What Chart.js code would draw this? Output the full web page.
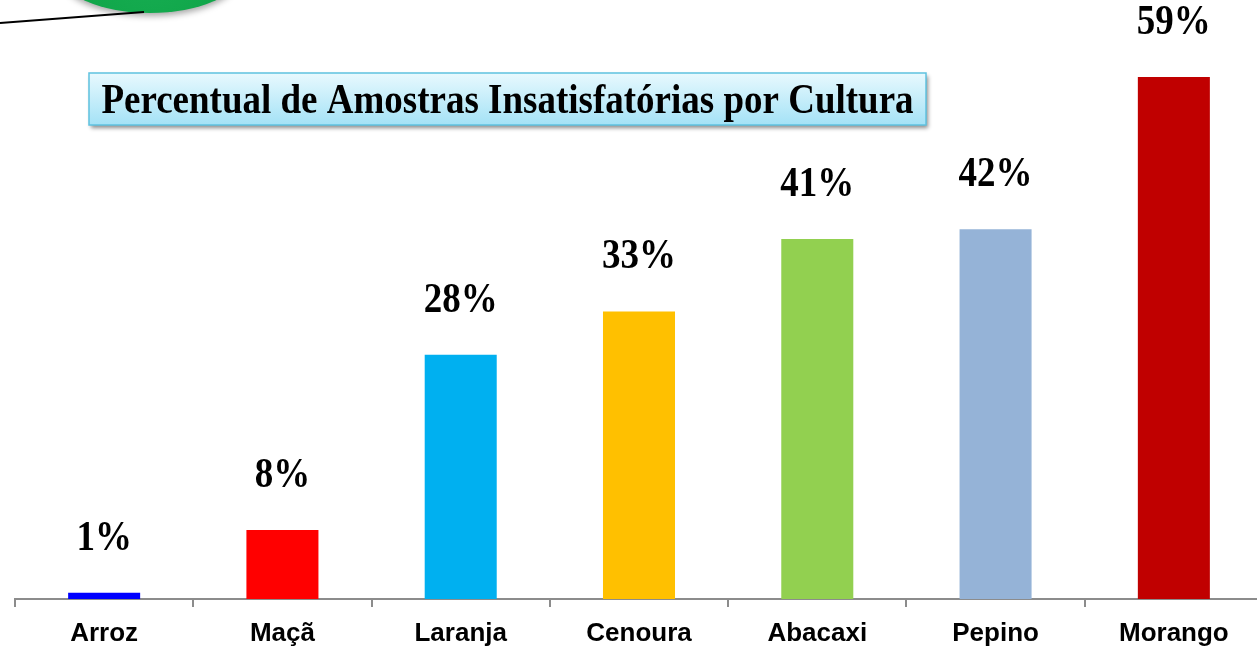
<!DOCTYPE html>
<html>
<head>
<meta charset="utf-8">
<script src="https://cdn.jsdelivr.net/npm/chart.js@4/dist/chart.umd.min.js"></script>
<style>
html,body{margin:0;padding:0;background:#fff;overflow:hidden;}
#wrap{position:absolute;left:0;top:0;width:1265px;height:646px;}
</style>
</head>
<body>
<div id="wrap"><canvas id="c" width="1265" height="646"></canvas></div>
<script>
const categories = ['Arroz', 'Maçã', 'Laranja', 'Cenoura', 'Abacaxi', 'Pepino', 'Morango'];
const values = [0.7, 7.8, 27.6, 32.5, 40.7, 41.8, 59.0];
const valueLabels = ['1%', '8%', '28%', '33%', '41%', '42%', '59%'];
const barColors = ['#0000ff', '#ff0000', '#00b0f0', '#ffc000', '#92d050', '#95b3d7', '#c00000'];
const chartTitle = 'Percentual de Amostras Insatisfatórias por Cultura';

const decorPlugin = {
  id: 'decor',
  afterDraw(chart) {
    const ctx = chart.ctx;
    ctx.save();
    ctx.shadowColor = 'rgba(0,0,0,0.35)';
    ctx.shadowBlur = 6;
    ctx.shadowOffsetY = 3;
    const g = ctx.createRadialGradient(150, -40, 10, 150, -27, 95);
    g.addColorStop(0, '#17ad52');
    g.addColorStop(0.85, '#0fa548');
    g.addColorStop(1, '#0a8a3a');
    ctx.fillStyle = g;
    ctx.beginPath();
    ctx.ellipse(150, -27, 90, 40, 0, 0, Math.PI * 2);
    ctx.fill();
    ctx.restore();
    ctx.save();
    ctx.strokeStyle = '#000';
    ctx.lineWidth = 2;
    ctx.beginPath();
    ctx.moveTo(0, 23);
    ctx.lineTo(144, 12);
    ctx.stroke();
    ctx.restore();

    const bx = 89, by = 73, bw = 837, bh = 52;
    ctx.save();
    ctx.shadowColor = 'rgba(0,0,0,0.45)';
    ctx.shadowBlur = 4;
    ctx.shadowOffsetX = 2;
    ctx.shadowOffsetY = 3;
    const tg = ctx.createLinearGradient(0, by, 0, by + bh);
    tg.addColorStop(0, '#e8f9fe');
    tg.addColorStop(1, '#a4e2f6');
    ctx.fillStyle = tg;
    ctx.fillRect(bx, by, bw, bh);
    ctx.restore();
    ctx.save();
    ctx.strokeStyle = '#5fc2e0';
    ctx.lineWidth = 1.5;
    ctx.strokeRect(bx, by, bw, bh);
    ctx.fillStyle = '#000';
    ctx.font = 'bold 37px "Liberation Serif", "Times New Roman", serif';
    ctx.textAlign = 'center';
    ctx.textBaseline = 'alphabetic';
    ctx.translate(bx + bw / 2, 113);
    ctx.scale(1, 1.12);
    ctx.fillText(chartTitle, 0, 0);
    ctx.restore();
  },
  afterDatasetsDraw(chart) {
    const ctx = chart.ctx;
    const meta = chart.getDatasetMeta(0);
    ctx.save();
    ctx.fillStyle = '#000';
    ctx.font = 'bold 37px "Liberation Serif", "Times New Roman", serif';
    ctx.textAlign = 'center';
    ctx.textBaseline = 'middle';
    meta.data.forEach((bar, i) => {
      ctx.save();
      ctx.translate(bar.x, bar.y - 54);
      ctx.scale(1, 1.12);
      ctx.fillText(valueLabels[i], 0, 0);
      ctx.restore();
    });
    ctx.restore();
  }
};

new Chart(document.getElementById('c'), {
  type: 'bar',
  data: {
    labels: categories,
    datasets: [{
      data: values,
      backgroundColor: barColors,
      borderWidth: 0,
      categoryPercentage: 1,
      barPercentage: 0.404
    }]
  },
  options: {
    responsive: false,
    animation: false,
    devicePixelRatio: 1,
    layout: { padding: { left: 15, right: 2, top: 0, bottom: 0 } },
    plugins: { legend: { display: false }, tooltip: { enabled: false }, title: { display: false } },
    scales: {
      y: { display: false, min: 0, max: 67.7 },
      x: {
        afterFit(scale) { scale.height = 47; },
        border: { display: true, color: '#8c8c8c', width: 2 },
        grid: { display: true, drawOnChartArea: false, drawTicks: true, tickLength: 8, color: '#8c8c8c', lineWidth: 2, offset: true },
        ticks: {
          color: '#000',
          padding: 11,
          maxRotation: 0,
          autoSkip: false,
          font: { family: '"Liberation Sans", Arial, sans-serif', size: 26, weight: 'bold' }
        }
      }
    }
  },
  plugins: [decorPlugin]
});
</script>
</body>
</html>
